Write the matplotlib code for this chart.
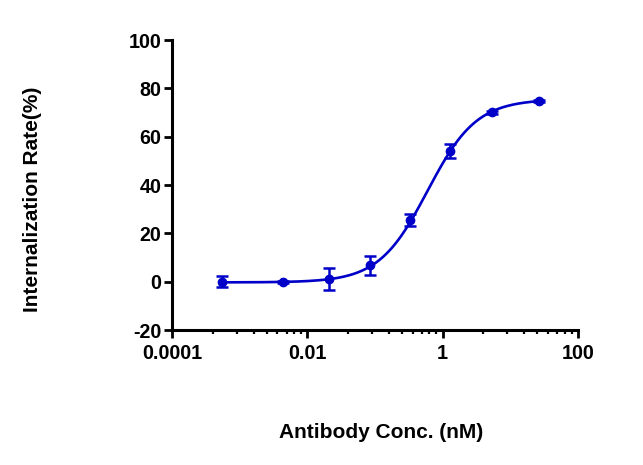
import numpy as np
import matplotlib
matplotlib.use("Agg")
import matplotlib.pyplot as plt
from matplotlib.ticker import FixedLocator, NullFormatter

# values
conc_nM = [0.00054, 0.0043, 0.021, 0.085, 0.33, 1.3, 5.4, 27.0]
rate_pct = [0.0, -0.3, 1.2, 6.8, 25.6, 54.0, 70.0, 74.8]
rate_sd = [2.4, 0.4, 4.5, 4.0, 2.6, 3.0, 0.5, 0.5]

# 4PL fit parameters (bottom, top, EC50, hill)
fit_bottom, fit_top, fit_ec50, fit_hill = -0.3, 75.5, 0.6, 1.2

major_x = [0.0001, 0.01, 1, 100]
major_x_labels = ["0.0001", "0.01", "1", "100"]
y_ticks = [-20, 0, 20, 40, 60, 80, 100]

BLUE = "#0000C8"
plt.rcParams["font.family"] = ["Liberation Sans", "DejaVu Sans"]
plt.rcParams["font.weight"] = "bold"
plt.rcParams["axes.unicode_minus"] = False

fig = plt.figure(figsize=(6.43, 4.65), dpi=100)
ax = fig.add_axes([172.3 / 643, 1 - 330 / 465, (577.7 - 172.3) / 643, 290 / 465])

xs = np.logspace(np.log10(conc_nM[0]), np.log10(conc_nM[-1]), 300)
ys = fit_bottom + (fit_top - fit_bottom) / (1 + (fit_ec50 / xs) ** fit_hill)
ax.plot(xs, ys, color=BLUE, lw=1.9, zorder=3)
ax.errorbar(conc_nM, rate_pct, yerr=rate_sd, fmt="o", color=BLUE, ms=6,
            elinewidth=1.8, capsize=4, capthick=1.8, zorder=4)

ax.set_xscale("log")
ax.set_xlim(0.0001, 100)
ax.set_ylim(-20, 100)
ax.xaxis.set_major_locator(FixedLocator(major_x))
ax.set_xticklabels(major_x_labels)
# GraphPad-style minor ticks: k^2 steps inside each 2-decade interval
minor = [m * k ** 2 for m in major_x[:-1] for k in range(2, 10)]
ax.xaxis.set_minor_locator(FixedLocator(minor))
ax.xaxis.set_minor_formatter(NullFormatter())
ax.set_yticks(y_ticks)

for s in ["top", "right"]:
    ax.spines[s].set_visible(False)
for s in ["left", "bottom"]:
    ax.spines[s].set_linewidth(2.2)
ax.tick_params(axis="both", which="major", length=6, width=2.0, labelsize=14.2, pad=2)
ax.tick_params(axis="x", which="minor", length=3, width=1.6)
ax.tick_params(axis="x", which="major", pad=4)

fig.text(380.7 / 643, 1 - 432 / 465, "Antibody Conc. (nM)", ha="center", va="center",
         fontsize=15, fontweight="bold")
fig.text(33 / 643, 1 - 199 / 465, "Internalization Rate(%)", ha="center", va="center",
         rotation=90, fontsize=15, fontweight="bold")

fig.savefig("out.png", dpi=100)
